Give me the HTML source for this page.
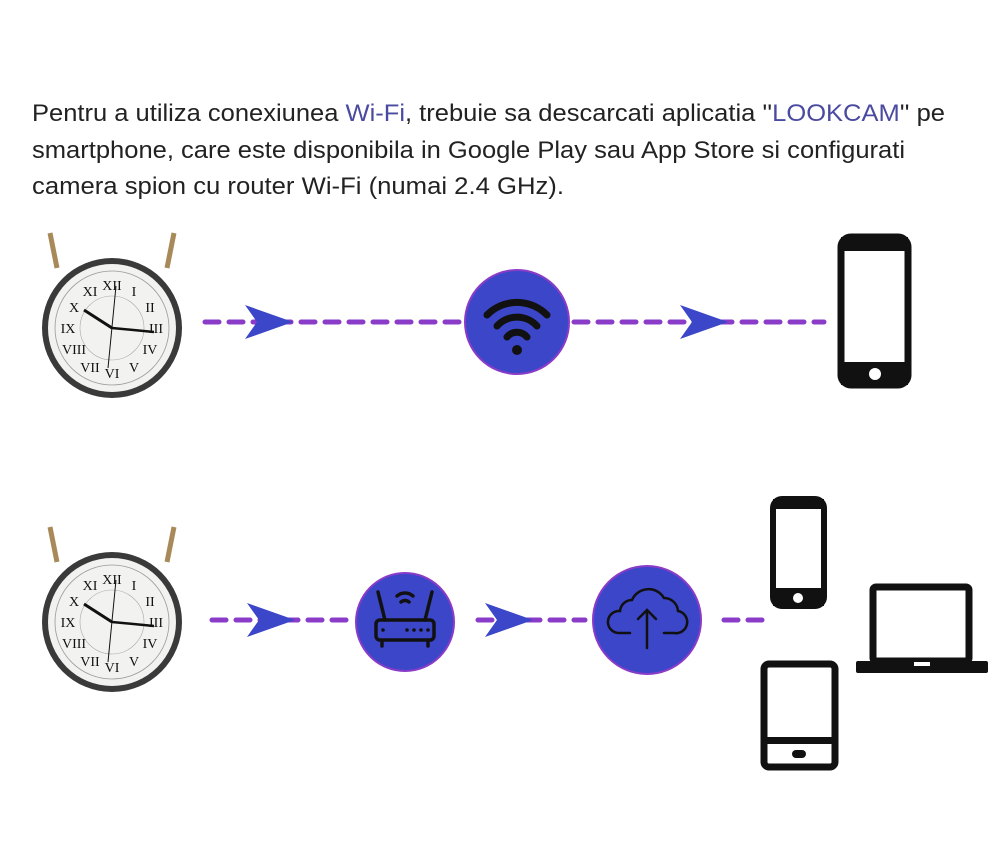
<!DOCTYPE html>
<html><head><meta charset="utf-8"><style>
html,body{margin:0;padding:0;background:#fff;width:1000px;height:850px;overflow:hidden}
</style></head><body>
<svg width="1000" height="850" viewBox="0 0 1000 850" xmlns="http://www.w3.org/2000/svg">
<defs>
<g id="clock">
  <line x1="-55" y1="-60" x2="-62" y2="-95" stroke="#a88a5a" stroke-width="5"/>
  <line x1="55" y1="-60" x2="62" y2="-95" stroke="#a88a5a" stroke-width="5"/>
  <circle r="70" fill="#3a3a3a"/>
  <circle r="64" fill="#f2f2f0"/>
  <circle r="57" fill="none" stroke="#999" stroke-width="0.8"/>
  <circle r="32" fill="none" stroke="#aaa" stroke-width="0.6"/>
  <g font-family="Liberation Serif,serif" font-size="14" fill="#111" text-anchor="middle">
    <text x="0" y="-38">XII</text><text x="22" y="-32">I</text><text x="38" y="-16">II</text>
    <text x="44" y="5">III</text><text x="38" y="26">IV</text><text x="22" y="44">V</text>
    <text x="0" y="50">VI</text><text x="-22" y="44">VII</text><text x="-38" y="26">VIII</text>
    <text x="-44" y="5">IX</text><text x="-38" y="-16">X</text><text x="-22" y="-32">XI</text>
  </g>
  <line x1="0" y1="0" x2="-28" y2="-18" stroke="#111" stroke-width="3"/>
  <line x1="0" y1="0" x2="42" y2="4" stroke="#111" stroke-width="2.5"/>
  <line x1="4" y1="-42" x2="-4" y2="40" stroke="#111" stroke-width="1"/>
</g>
<g id="arrow"><polygon points="0,-17 48,0 0,17 12,0" fill="#3b46c8"/></g>
</defs>

<text font-family="Liberation Sans,sans-serif" font-size="24" fill="#222">
  <tspan x="32" y="121" textLength="913" lengthAdjust="spacingAndGlyphs">Pentru a utiliza conexiunea <tspan fill="#4a4aa0">Wi-Fi</tspan>, trebuie sa descarcati aplicatia ''<tspan fill="#4a4aa0">LOOKCAM</tspan>'' pe</tspan>
  <tspan x="32" y="158" textLength="873" lengthAdjust="spacingAndGlyphs">smartphone, care este disponibila in Google Play sau App Store si configurati</tspan>
  <tspan x="32" y="194" textLength="532" lengthAdjust="spacingAndGlyphs">camera spion cu router Wi-Fi (numai 2.4 GHz).</tspan>
</text>

<use href="#clock" x="112" y="328"/>
<use href="#clock" x="112" y="622"/>

<!-- row 1 -->
<g stroke="#8a3cc8" stroke-width="5" stroke-linecap="round" stroke-dasharray="14 10">
  <line x1="205" y1="322" x2="462" y2="322"/>
  <line x1="574" y1="322" x2="824" y2="322"/>
</g>
<use href="#arrow" x="245" y="322"/>
<use href="#arrow" x="680" y="322"/>
<circle cx="517" cy="322" r="52" fill="#3b46c8" stroke="#8a3cc8" stroke-width="2"/>
<g fill="none" stroke="#111" stroke-width="7" stroke-linecap="round">
  <path d="M487 315 A42 42 0 0 1 547 315"/>
  <path d="M497 326 A27 27 0 0 1 537 326"/>
  <path d="M507 337 A13 13 0 0 1 527 337"/>
</g>
<circle cx="517" cy="350" r="5" fill="#111"/>
<rect x="841" y="237" width="67" height="148" rx="10" fill="none" stroke="#111" stroke-width="7"/>
<rect x="841" y="237" width="67" height="14" fill="#111"/>
<rect x="841" y="362" width="67" height="23" fill="#111"/>
<circle cx="875" cy="374" r="6" fill="#fff"/>

<!-- row 2 -->
<g stroke="#8a3cc8" stroke-width="5" stroke-linecap="round" stroke-dasharray="14 10">
  <line x1="212" y1="620" x2="353" y2="620"/>
  <line x1="478" y1="620" x2="585" y2="620"/>
  <line x1="724" y1="620" x2="764" y2="620"/>
</g>
<use href="#arrow" x="247" y="620"/>
<use href="#arrow" x="485" y="620"/>
<circle cx="405" cy="622" r="49" fill="#3b46c8" stroke="#8a3cc8" stroke-width="2"/>
<g stroke="#111" stroke-width="3.5" fill="none" stroke-linecap="round">
  <line x1="378" y1="592" x2="385" y2="620"/><line x1="432" y1="592" x2="425" y2="620"/>
  <path d="M397 596 A12 12 0 0 1 413 596"/><path d="M401 602 A6 6 0 0 1 409 602"/>
  <rect x="376" y="620" width="58" height="20" rx="4"/>
  <line x1="382" y1="642" x2="382" y2="646"/><line x1="428" y1="642" x2="428" y2="646"/>
</g>
<g fill="#111"><circle cx="383" cy="630" r="1.8"/><circle cx="407" cy="630" r="1.8"/><circle cx="414" cy="630" r="1.8"/><circle cx="421" cy="630" r="1.8"/><circle cx="428" cy="630" r="1.8"/></g>
<circle cx="647" cy="620" r="54" fill="#3b46c8" stroke="#8a3cc8" stroke-width="2"/>
<g stroke="#111" stroke-width="2.5" fill="none" stroke-linecap="round">
  <path d="M630 633 H618 A11 11 0 0 1 620 611 A12 12 0 0 1 632 600 A18 18 0 0 1 664 598 A14 14 0 0 1 678 611 A11 11 0 0 1 674 633 H664"/>
  <line x1="647" y1="648" x2="647" y2="610"/><path d="M638 619 L647 610 L656 619"/>
</g>
<rect x="773" y="499" width="51" height="107" rx="9" fill="none" stroke="#111" stroke-width="6"/>
<rect x="773" y="499" width="51" height="10" fill="#111"/>
<rect x="773" y="588" width="51" height="18" fill="#111"/>
<circle cx="798" cy="598" r="5" fill="#fff"/>
<rect x="873" y="587" width="96" height="74" rx="3" fill="none" stroke="#111" stroke-width="7"/>
<rect x="856" y="661" width="132" height="12" rx="2" fill="#111"/>
<rect x="914" y="662" width="16" height="4" fill="#fff"/>
<rect x="764" y="664" width="71" height="103" rx="5" fill="none" stroke="#111" stroke-width="7"/>
<rect x="764" y="737" width="71" height="7" fill="#111"/>
<rect x="792" y="750" width="14" height="8" rx="4" fill="#111"/>
</svg>
</body></html>
